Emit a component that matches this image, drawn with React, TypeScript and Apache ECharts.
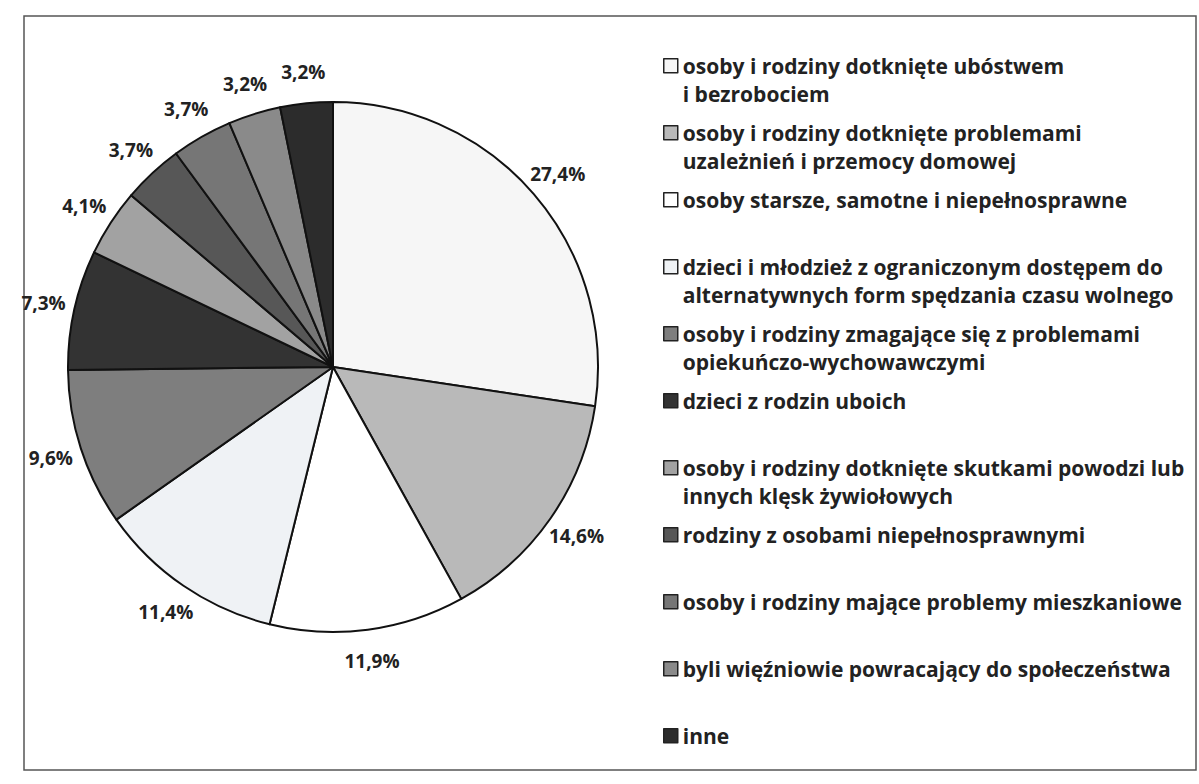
import React, { useEffect, useRef } from "react";
import * as echarts from "echarts";

const categories: string[] = [
  "osoby i rodziny dotknięte ubóstwem\ni bezrobociem",
  "osoby i rodziny dotknięte problemami\nuzależnień i przemocy domowej",
  "osoby starsze, samotne i niepełnosprawne",
  "dzieci i młodzież z ograniczonym dostępem do\nalternatywnych form spędzania czasu wolnego",
  "osoby i rodziny zmagające się z problemami\nopiekuńczo-wychowawczymi",
  "dzieci z rodzin uboich",
  "osoby i rodziny dotknięte skutkami powodzi lub\ninnych klęsk żywiołowych",
  "rodziny z osobami niepełnosprawnymi",
  "osoby i rodziny mające problemy mieszkaniowe",
  "byli więźniowie powracający do społeczeństwa",
  "inne",
];

const values: number[] = [27.4, 14.6, 11.9, 11.4, 9.6, 7.3, 4.1, 3.7, 3.7, 3.2, 3.2];

const colors: string[] = [
  "#f6f6f6",
  "#b9b9b9",
  "#ffffff",
  "#eff2f5",
  "#7e7e7e",
  "#333333",
  "#a2a2a2",
  "#575757",
  "#767676",
  "#8a8a8a",
  "#2c2c2c",
];

const FONT = "'Open Sans'";

export default function App() {
  const ref = useRef<HTMLDivElement>(null);

  useEffect(() => {
    if (!ref.current) return;
    const chart = echarts.init(ref.current, undefined, { renderer: "svg" });
    const data = categories.map((name, i) => ({
      name,
      value: values[i],
      itemStyle: { color: colors[i] },
    }));
    const labelData = categories.map((name, i) => ({ name, value: values[i] }));
    const fmt = (p: any) => p.value.toFixed(1).replace(".", ",") + "%";
    chart.setOption({
      animation: false,
      backgroundColor: "#ffffff",
      graphic: [
        {
          type: "rect",
          shape: { x: 24, y: 16, width: 1172, height: 754 },
          style: { fill: "none", stroke: "#555", lineWidth: 1.5 },
          silent: true,
        },
      ],
      legend: {
        orient: "vertical",
        left: 663,
        top: 51,
        height: 765,
        padding: 0,
        itemWidth: 14,
        itemHeight: 56,
        itemGap: 9.5,
        itemTextGap: 6,
        icon: "path://M0,0M0,56M0,7h14v14h-14z",
        itemStyle: { borderColor: "#222", borderWidth: 1.5 },
        data: categories,
        formatter: (name: string) => (name.indexOf("\n") >= 0 ? name : name + "\n "),
        textStyle: {
          fontFamily: FONT,
          fontWeight: "bold",
          fontSize: 21,
          lineHeight: 28,
          color: "#222",
        },
      },
      series: [
        {
          type: "pie",
          center: [333, 367],
          radius: 265,
          startAngle: 90,
          clockwise: true,
          itemStyle: { borderColor: "#111", borderWidth: 2 },
          label: { show: false },
          labelLine: { show: false },
          emphasis: { disabled: true },
          silent: true,
          data,
        },
        {
          type: "pie",
          center: [333, 367],
          radius: [265, 322],
          startAngle: 90,
          clockwise: true,
          itemStyle: { color: "rgba(0,0,0,0)", borderWidth: 0 },
          label: {
            show: true,
            position: "inside",
            fontFamily: FONT,
            fontWeight: "bold",
            fontSize: 19,
            color: "#222",
            formatter: fmt,
          },
          labelLine: { show: false },
          emphasis: { disabled: true },
          silent: true,
          data: labelData,
        },
      ],
    });
    return () => chart.dispose();
  }, []);

  return (
    <div
      ref={ref}
      style={{ position: "fixed", left: 0, top: 0, width: 1199, height: 820 }}
    />
  );
}
